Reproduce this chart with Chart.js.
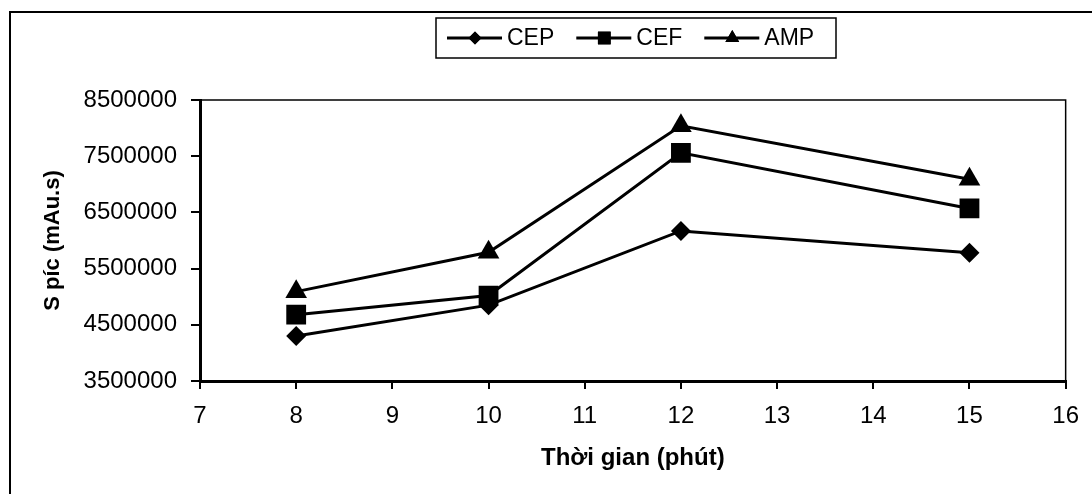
<!DOCTYPE html>
<html>
<head>
<meta charset="utf-8">
<script src="https://cdn.jsdelivr.net/npm/chart.js@4"></script>
<style>
    body { margin: 0; background: #fff; }
    #wrap { position: relative; width: 1092px; height: 494px; }
</style>
</head>
<body>
<div id="wrap"><canvas id="line-chart"></canvas></div>
<script>
"use strict";

var times = [8, 10, 12, 15];

var cep = [4300000, 4850000, 6170000, 5780000];
var cef = [4680000, 5020000, 7560000, 6570000];
var amp = [5090000, 5790000, 8040000, 7090000];

var seriesNames = ["CEP", "CEF", "AMP"];
var markers = ["rectRot", "rect", "triangle"];
var markerSizes = [10, 14, 12.5];
var legendSizes = [6.5, 9, 8];

function toPoints(values) {
    return values.map(function (v, i) {
        return { x: times[i], y: v };
    });
}

var fontFamily = "'Liberation Sans', Arial, sans-serif";
Chart.defaults.font.family = fontFamily;
Chart.defaults.color = "#000";

// outer frame, plot box and the Excel-style legend box
var framePlugin = {
    id: "frame",
    afterDraw: function (chart) {
        var ctx = chart.ctx;
        var a = chart.chartArea;
        ctx.save();
        ctx.strokeStyle = "#000";
        ctx.lineWidth = 2;
        ctx.strokeRect(10, 12, 1100, 500);
        ctx.lineWidth = 1.5;
        ctx.beginPath();
        ctx.moveTo(a.left, a.top);
        ctx.lineTo(a.right, a.top);
        ctx.lineTo(a.right, a.bottom);
        ctx.stroke();

        // legend
        var bx = 436, by = 18, bw = 400, bh = 40;
        ctx.lineWidth = 1.5;
        ctx.strokeRect(bx, by, bw, bh);
        ctx.font = "23px " + fontFamily;
        ctx.textBaseline = "middle";
        ctx.fillStyle = "#000";
        var cy = by + bh / 2;
        var x = bx + 11;
        chart.data.datasets.forEach(function (ds, i) {
            ctx.lineWidth = 3;
            ctx.beginPath();
            ctx.moveTo(x, cy);
            ctx.lineTo(x + 55, cy);
            ctx.stroke();
            Chart.helpers.drawPoint(ctx, {
                pointStyle: ds.pointStyle,
                radius: legendSizes[i],
                borderWidth: 0
            }, x + 28, cy);
            ctx.fill();
            ctx.fillText(ds.label, x + 60, cy + 1);
            x += 60 + ctx.measureText(ds.label).width + 22;
        });
        ctx.restore();
    }
};

function makeSet(i, values) {
    return {
        label: seriesNames[i],
        data: toPoints(values),
        borderColor: "#000",
        backgroundColor: "#000",
        borderWidth: 3,
        pointStyle: markers[i],
        pointRadius: markerSizes[i],
        pointBorderWidth: 0,
        pointBackgroundColor: "#000",
        tension: 0
    };
}

var ctx = document.getElementById("line-chart").getContext("2d");

new Chart(ctx, {
    type: "line",
    data: {
        datasets: [makeSet(0, cep), makeSet(1, cef), makeSet(2, amp)]
    },
    options: {
        responsive: true,
        maintainAspectRatio: false,
        animation: false,
        layout: {
            padding: { top: 100, right: 20, left: 0, bottom: 0 }
        },
        scales: {
            x: {
                type: "linear",
                min: 7,
                max: 16,
                afterFit: function (s) { s.height = 113; },
                ticks: {
                    stepSize: 1,
                    padding: 13,
                    font: { size: 24 },
                    color: "#000"
                },
                grid: {
                    drawOnChartArea: false,
                    drawTicks: true,
                    tickLength: 8,
                    color: "#000",
                    lineWidth: 2
                },
                border: { color: "#000", width: 3 },
                title: {
                    display: true,
                    text: "Thời gian (phút)",
                    font: { size: 24, weight: "bold" },
                    color: "#000",
                    padding: { top: 0, bottom: 21 }
                }
            },
            y: {
                min: 3500000,
                max: 8500000,
                afterFit: function (s) { s.width = 200; },
                ticks: {
                    stepSize: 1000000,
                    padding: 14,
                    font: { size: 24 },
                    color: "#000",
                    callback: function (v) { return String(v); }
                },
                grid: {
                    drawOnChartArea: false,
                    drawTicks: true,
                    tickLength: 9,
                    color: "#000",
                    lineWidth: 2
                },
                border: { color: "#000", width: 3 },
                title: {
                    display: true,
                    text: "S píc (mAu.s)",
                    font: { size: 22, weight: "bold" },
                    color: "#000",
                    padding: { top: 40, bottom: 0 }
                }
            }
        },
        plugins: {
            legend: { display: false },
            tooltip: { enabled: false }
        }
    },
    plugins: [framePlugin]
});
</script>
</body>
</html>
